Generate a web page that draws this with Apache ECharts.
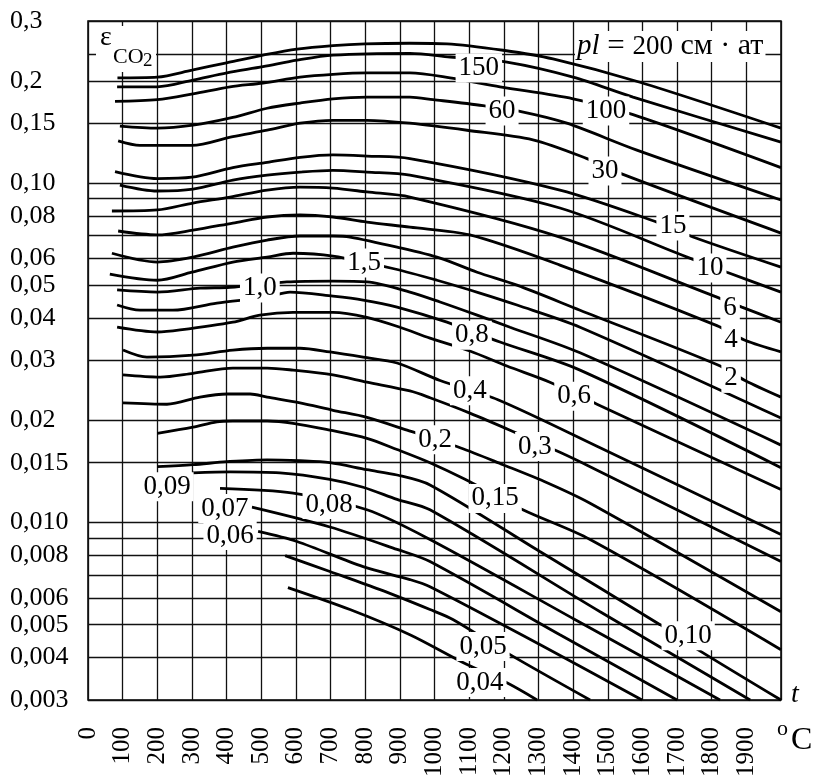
<!DOCTYPE html>
<html><head><meta charset="utf-8">
<script src="https://cdn.jsdelivr.net/npm/echarts@6/dist/echarts.min.js"></script>
<style>html,body{margin:0;padding:0;background:#fff}#c{width:816px;height:781px}</style>
</head><body><div id="c"></div>
<script>
// ---- axis ticks ----
const xTickValues = [0,100,200,300,400,500,600,700,800,900,1000,1100,1200,1300,1400,1500,1600,1700,1800,1900];
const yGridValues = [0.003,0.004,0.005,0.006,0.007,0.008,0.009,0.01,0.015,0.02,0.03,0.04,0.05,0.06,0.07,0.08,0.09,0.1,0.15,0.2,0.24,0.3];
const yTickValues = [0.003,0.004,0.005,0.006,0.008,0.01,0.015,0.02,0.03,0.04,0.05,0.06,0.08,0.1,0.15,0.2,0.3];
const yTickLabels = ['0,003','0,004','0,005','0,006','0,008','0,010','0,015','0,02','0,03','0,04','0,05','0,06','0,08','0,10','0,15','0,2','0,3'];

// ---- curves: [t, eps] for each pl (cm·at) ----
const pl200 = [[85,0.204],[200,0.205],[300,0.215],[400,0.226],[505,0.238],[603,0.248],[707,0.254],[800,0.257],[929,0.258],[1036,0.257],[1198,0.246],[1342,0.232],[1593,0.198],[2000,0.145]];
const pl150 = [[84,0.192],[200,0.192],[303,0.201],[401,0.211],[505,0.220],[603,0.230],[707,0.238],[929,0.241],[1045,0.235],[1209,0.227],[1400,0.205],[1573,0.179],[2000,0.132]];
const pl100 = [[78,0.174],[200,0.176],[303,0.183],[410,0.192],[505,0.197],[612,0.205],[707,0.209],[805,0.211],[929,0.211],[1045,0.204],[1189,0.192],[1400,0.177],[1573,0.159],[2000,0.111]];
const pl60 = [[92,0.147],[200,0.145],[303,0.148],[418,0.156],[517,0.166],[612,0.172],[707,0.177],[805,0.179],[929,0.179],[996,0.176],[1140,0.169],[1253,0.162],[1382,0.150],[1584,0.125],[2000,0.0891]];
const pl30 = [[87,0.133],[150,0.129],[300,0.129],[418,0.137],[517,0.143],[612,0.150],[707,0.153],[805,0.153],[929,0.150],[1094,0.143],[1284,0.134],[1440,0.118],[1544,0.106],[2000,0.0712]];
const pl15 = [[78,0.108],[200,0.103],[300,0.104],[418,0.111],[517,0.115],[612,0.119],[707,0.121],[805,0.120],[929,0.118],[1362,0.0953],[1642,0.0767],[1746,0.0693],[2000,0.0565]];
const pl10 = [[92,0.0986],[200,0.0947],[303,0.0959],[418,0.102],[517,0.1055],[612,0.1077],[707,0.109],[805,0.1077],[929,0.1055],[1362,0.0844],[1729,0.0605],[1844,0.0546],[2000,0.0477]];
const pl6 = [[69,0.0827],[200,0.0833],[303,0.0873],[410,0.0909],[517,0.0953],[612,0.0972],[707,0.0966],[805,0.0941],[929,0.0909],[1362,0.0693],[1815,0.0461],[1887,0.0431],[2000,0.0389]];
const pl4 = [[87,0.0722],[200,0.0703],[303,0.0726],[418,0.0762],[517,0.0794],[612,0.0805],[707,0.0794],[805,0.0767],[929,0.0741],[1102,0.0703],[1362,0.0573],[1815,0.0380],[1896,0.0344],[2000,0.0318]];
const pl2 = [[69,0.0621],[200,0.0585],[303,0.0605],[418,0.0647],[517,0.0679],[612,0.0698],[707,0.0698],[756,0.0693],[892,0.0647],[1016,0.0601],[1123,0.0546],[1238,0.0500],[1420,0.0422],[1818,0.0291],[1896,0.0262],[2000,0.0234]];
const pl1_5 = [[63,0.0539],[200,0.0517],[300,0.0546],[418,0.0585],[517,0.0605],[592,0.0621],[707,0.0609],[886,0.0558],[1007,0.0517],[1131,0.0474],[1238,0.0437],[1420,0.0376],[2000,0.0203]];
const pl1_0 = [[84,0.0484],[200,0.0477],[323,0.0490],[410,0.0493],[574,0.0511],[707,0.0514],[805,0.0511],[929,0.0477],[1016,0.0446],[1123,0.0408],[1218,0.0376],[1420,0.0316],[2000,0.0169]];
const pl0_8 = [[84,0.0437],[150,0.0422],[245,0.0422],[372,0.0443],[517,0.0461],[583,0.0477],[707,0.0464],[794,0.0452],[892,0.0431],[1036,0.0389],[1189,0.0340],[1420,0.0281],[2000,0.0145]];
const pl0_6 = [[84,0.0376],[200,0.0364],[266,0.0369],[418,0.0389],[496,0.0408],[592,0.0416],[707,0.0416],[805,0.0402],[900,0.0376],[987,0.0349],[1102,0.0320],[1209,0.0289],[1333,0.0259],[1469,0.0223],[2000,0.0125]];
const pl0_4 = [[101,0.0322],[170,0.0307],[303,0.0311],[418,0.0322],[517,0.0326],[612,0.0326],[698,0.0318],[794,0.0307],[892,0.0295],[1016,0.0262],[1183,0.0230],[1478,0.0166],[2000,0.00922]];
const pl0_3 = [[101,0.0272],[208,0.0268],[303,0.0275],[418,0.0285],[517,0.0285],[592,0.0281],[707,0.0272],[805,0.0259],[929,0.0244],[987,0.0233],[1102,0.0210],[1218,0.0187],[1362,0.0161],[1449,0.0146],[2000,0.00767]];
const pl0_2 = [[101,0.0225],[228,0.0223],[323,0.0234],[401,0.0239],[468,0.0239],[517,0.0234],[612,0.0225],[707,0.0214],[805,0.0204],[921,0.0187],[1074,0.0166],[1198,0.0148],[1325,0.0131],[1449,0.0114],[2000,0.00546]];
const pl0_15 = [[200,0.0183],[303,0.0191],[372,0.0198],[418,0.0199],[517,0.0199],[592,0.0196],[698,0.0187],[805,0.0177],[892,0.0164],[987,0.0150],[1088,0.0134],[1255,0.0109],[1449,0.00891],[2000,0.00422]];
const pl0_10 = [[200,0.0146],[303,0.0148],[401,0.0151],[517,0.0153],[612,0.0152],[698,0.0150],[805,0.0143],[892,0.0138],[987,0.0129],[1304,0.00821],[1651,0.00500],[1746,0.00431],[2000,0.003]];
const pl0_09 = [[303,0.0140],[410,0.0141],[554,0.0140],[698,0.0134],[794,0.0127],[892,0.0117],[987,0.0109],[1478,0.00546],[1911,0.003]];
const pl0_08 = [[381,0.0126],[592,0.0122],[805,0.0109],[987,0.00891],[1405,0.00518],[1824,0.003]];
const pl0_07 = [[473,0.0111],[698,0.0097],[892,0.00833],[987,0.00767],[1362,0.00467],[1700,0.003]];
const pl0_06 = [[491,0.00941],[603,0.00879],[794,0.00741],[929,0.00679],[987,0.00647],[1304,0.00437],[1599,0.003]];
const pl0_05 = [[569,0.00799],[698,0.00717],[843,0.00634],[987,0.00554],[1053,0.00518],[1218,0.00408],[1449,0.003]];
const pl0_04 = [[577,0.00643],[756,0.00554],[929,0.00467],[1082,0.00387],[1209,0.00337],[1296,0.003]];

// ---- curve labels ----
const labelText = ['150','100','60','30','15','10','6','4','2','1,5','1,0','0,8','0,6','0,4','0,3','0,2','0,15','0,10','0,09','0,08','0,07','0,06','0,05','0,04'];
const labelT = [1128,1495,1195,1492,1688,1795,1853,1856,1856,797,496,1108,1403,1102,1290,1002,1175,1732,228,696,395,410,1140,1131];
const labelE = [0.2241,0.1673,0.1673,0.1114,0.0767,0.0577,0.0440,0.0354,0.0273,0.0597,0.0504,0.0366,0.0242,0.0251,0.0172,0.0180,0.0121,0.00477,0.0131,0.0116,0.0113,0.00941,0.00443,0.00347];

const curves = [pl200,pl150,pl100,pl60,pl30,pl15,pl10,pl6,pl4,pl2,pl1_5,pl1_0,pl0_8,pl0_6,pl0_4,pl0_3,pl0_2,pl0_15,pl0_10,pl0_09,pl0_08,pl0_07,pl0_06,pl0_05,pl0_04];

const serif = '"Liberation Serif","Times New Roman",serif';
const chart = echarts.init(document.getElementById('c'), null, {renderer: 'canvas'});

const series = curves.map(d => ({
  type: 'line', data: d, smooth: 0.3, symbol: 'none', showSymbol: false,
  lineStyle: {color: '#000', width: 2.8}, silent: true, z: 3
}));
series.push({
  type: 'custom', z: 10, silent: true,
  data: labelText.map((s, i) => [labelT[i], labelE[i]]),
  renderItem: function (params, api) {
    const p = api.coord([api.value(0), api.value(1)]);
    return {
      type: 'text', x: p[0], y: p[1] + 4,
      style: {
        text: labelText[params.dataIndex], fill: '#000', font: '27px ' + serif,
        align: 'center', verticalAlign: 'middle', backgroundColor: '#fff', padding: [1, 3]
      }
    };
  }
});

function yLabel(v) {
  for (let i = 0; i < yTickValues.length; i++) {
    if (Math.abs(v / yTickValues[i] - 1) < 1e-6) return yTickLabels[i];
  }
  return '';
}

chart.setOption({
  animation: false,
  textStyle: {fontFamily: serif, color: '#000'},
  grid: {left: 88, right: 35, top: 21, bottom: 81, show: true, borderColor: '#000', borderWidth: 1.5, backgroundColor: '#fff'},
  xAxis: {
    type: 'value', min: 0, max: 2000, interval: 100,
    axisLine: {show: false}, axisTick: {show: false},
    splitLine: {show: true, lineStyle: {color: '#111', width: 1.3}},
    axisLabel: {customValues: xTickValues, formatter: v => String(Math.round(v)), rotate: 90, margin: 27,
      fontSize: 25, color: '#000', fontFamily: serif}
  },
  yAxis: {
    type: 'log', logBase: 10, min: 0.003, max: 0.3,
    axisLine: {show: false},
    axisTick: {show: false, customValues: yGridValues},
    splitLine: {show: true, lineStyle: {color: '#111', width: 1.3}},
    minorSplitLine: {show: false},
    axisLabel: {customValues: yTickValues, formatter: yLabel, align: 'left', margin: 78, fontSize: 26,
      color: '#000', fontFamily: serif, padding: [5, 0, 0, 0]}
  },
  graphic: [
    {type: 'rect', shape: {x: 96, y: 26, width: 60, height: 46}, style: {fill: '#fff'}, z: 20},
    {type: 'text', x: 100, y: 24, style: {text: 'ε', font: '28px ' + serif, fill: '#000', verticalAlign: 'top'}, z: 21},
    {type: 'text', x: 113, y: 46, style: {text: 'CO', font: '22px ' + serif, fill: '#000', verticalAlign: 'top'}, z: 21},
    {type: 'text', x: 143, y: 52, style: {text: '2', font: '19px ' + serif, fill: '#000', verticalAlign: 'top'}, z: 21},
    {type: 'text', x: 575, y: 31, z: 21, style: {
      text: '{i|pl}{n| = }{d|200}{c| см · ат}', fill: '#000', verticalAlign: 'top',
      backgroundColor: '#fff', padding: [0, 2],
      rich: {
        i: {fontFamily: serif, fontStyle: 'italic', fontSize: 29},
        n: {fontFamily: serif, fontSize: 31},
        d: {fontFamily: serif, fontSize: 27},
        c: {fontFamily: serif, fontSize: 30}
      }
    }},
    {type: 'text', x: 791, y: 681, style: {text: 't', font: 'italic 28px ' + serif, fill: '#000', verticalAlign: 'top'}},
    {type: 'text', x: 777, y: 718, style: {text: 'o', font: '22px ' + serif, fill: '#000', verticalAlign: 'top'}},
    {type: 'text', x: 791, y: 725, style: {text: 'C', font: '32px ' + serif, fill: '#000', verticalAlign: 'top'}}
  ],
  series: series
});
</script>
</body></html>
